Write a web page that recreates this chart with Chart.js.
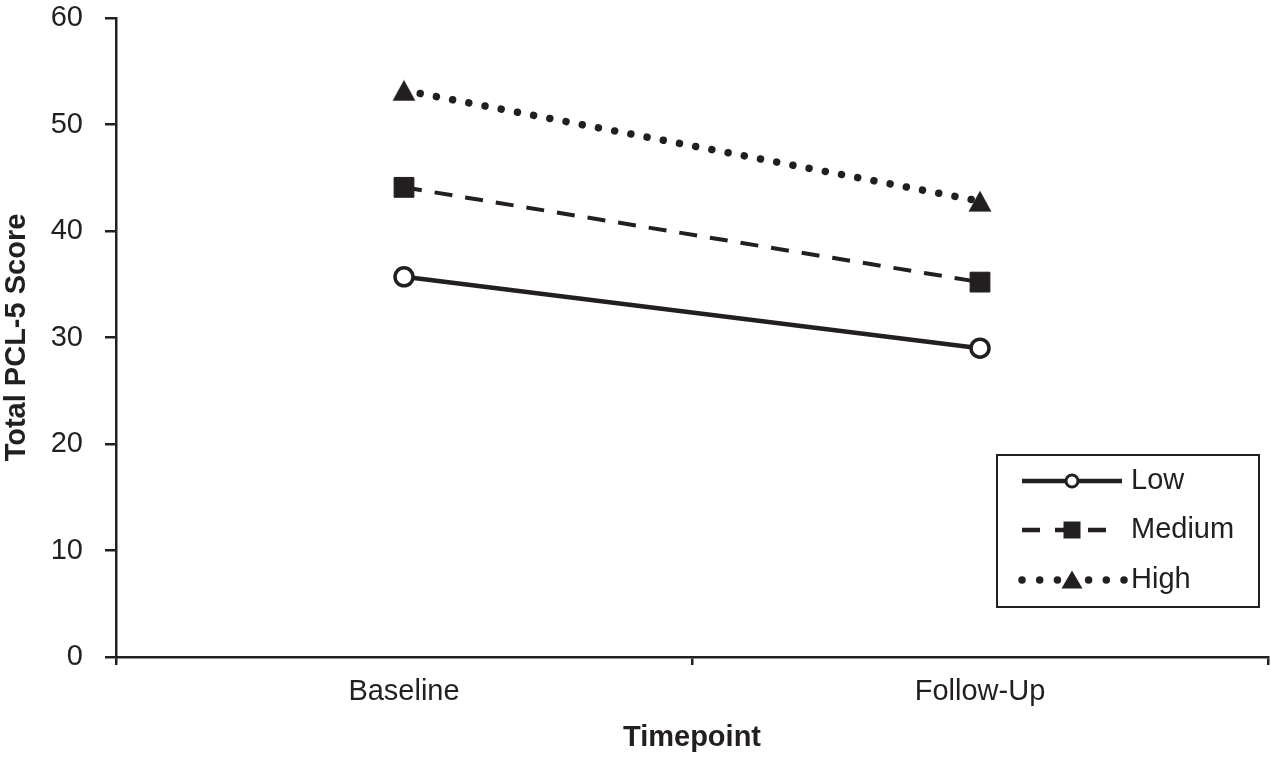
<!DOCTYPE html>
<html>
<head>
<meta charset="utf-8">
<script src="https://cdn.jsdelivr.net/npm/chart.js@4.4.0/dist/chart.umd.min.js"></script>
<style>
  html, body { margin: 0; padding: 0; background: #fff; overflow: hidden; }
  #wrap { width: 1271px; height: 758px; }
  #myChart { display: block; }
</style>
</head>
<body>
<div id="wrap"><canvas id="myChart"></canvas></div>
<script>
// values
const categories = ['Baseline', 'Follow-Up'];
const lowScores = [35.7, 29.0];
const mediumScores = [44.1, 35.2];
const highScores = [53.2, 42.8];
const seriesNames = ['Low', 'Medium', 'High'];
const yTicks = [0, 10, 20, 30, 40, 50, 60];

const ink = '#231f20';
const fontName = "'Liberation Sans', Arial, sans-serif";

// triangle centred on its bounding box (like the original markers)
function triPath(c, cx, cy, w, h) {
  c.beginPath();
  c.moveTo(cx, cy - h / 2);
  c.lineTo(cx + w / 2, cy + h / 2);
  c.lineTo(cx - w / 2, cy + h / 2);
  c.closePath();
}
let triImg = document.createElement('canvas');
triImg.width = 24;
triImg.height = 22;
let tctx = triImg.getContext('2d');
tctx.fillStyle = ink;
triPath(tctx, 12, 11, 23, 21);
tctx.fill();

// no extra room for tick labels, the plot box is fixed
function noPad(s) {
  s.paddingTop = 0;
  s.paddingBottom = 0;
  s.paddingLeft = 0;
  s.paddingRight = 0;
}

// legend drawn inside the plot, line + marker + label
const boxLegend = {
  id: 'boxLegend',
  afterDraw(chart) {
    const c = chart.ctx;
    const a = chart.chartArea;
    const x0 = a.right - 271, y0 = a.bottom - 202;
    const w = 262, h = 152;
    c.save();
    c.strokeStyle = ink;
    c.lineWidth = 2;
    c.strokeRect(x0, y0, w, h);

    const lx1 = x0 + 25, lx2 = x0 + 125, mx = x0 + 75;
    const rows = [y0 + 26, y0 + 75, y0 + 125];
    c.lineCap = 'butt';

    // Low
    c.setLineDash([]);
    c.lineWidth = 4.5;
    c.beginPath(); c.moveTo(lx1, rows[0]); c.lineTo(lx2, rows[0]); c.stroke();
    c.beginPath(); c.arc(mx, rows[0], 6, 0, Math.PI * 2);
    c.fillStyle = '#fff'; c.fill();
    c.lineWidth = 3; c.stroke();

    // Medium
    c.lineWidth = 4.5;
    c.setLineDash([18, 15]);
    c.beginPath(); c.moveTo(lx1, rows[1]); c.lineTo(lx1 + 86, rows[1]); c.stroke();
    c.setLineDash([]);
    c.fillStyle = ink;
    c.fillRect(mx - 8.5, rows[1] - 8.5, 17, 17);

    // High
    c.lineWidth = 7.5;
    c.lineCap = 'round';
    c.setLineDash([0.001, 17.7]);
    c.beginPath(); c.moveTo(lx1, rows[2]); c.lineTo(mx - 4, rows[2]); c.stroke();
    c.beginPath(); c.moveTo(lx2 + 2, rows[2]); c.lineTo(mx + 4, rows[2]); c.stroke();
    c.setLineDash([]);
    triPath(c, mx, rows[2] - 0.5, 21, 18);
    c.fill();

    c.font = '29px ' + fontName;
    c.textBaseline = 'middle';
    c.textAlign = 'left';
    for (let i = 0; i < seriesNames.length; i++) {
      c.fillText(seriesNames[i], x0 + 134, rows[i]);
    }
    c.restore();
  }
};

let ctx = document.getElementById('myChart');

let chart_cfg = {
  type: 'line',
  data: {
    labels: categories,
    datasets: [
      {
        label: seriesNames[0],
        data: lowScores,
        borderColor: ink,
        borderWidth: 4.5,
        pointStyle: 'circle',
        pointRadius: 9,
        pointBorderWidth: 3.5,
        pointBackgroundColor: '#fff',
        pointBorderColor: ink
      },
      {
        label: seriesNames[1],
        data: mediumScores,
        borderColor: ink,
        borderWidth: 4,
        borderDash: [18, 13],
        pointStyle: 'rect',
        pointRadius: 14,
        pointBorderWidth: 1,
        pointBackgroundColor: ink,
        pointBorderColor: ink
      },
      {
        label: seriesNames[2],
        data: highScores,
        borderColor: ink,
        borderWidth: 7.5,
        borderDash: [0.001, 16.5],
        borderCapStyle: 'round',
        pointStyle: triImg,
        pointRadius: 12
      }
    ]
  },
  options: {
    responsive: true,
    maintainAspectRatio: false,
    animation: false,
    layout: { autoPadding: false, padding: { top: 18, right: 3, left: 0, bottom: 0 } },
    plugins: {
      legend: { display: false },
      tooltip: { enabled: false }
    },
    scales: {
      x: {
        offset: true,
        afterFit: (s) => { s.height = 101; noPad(s); },
        grid: {
          offset: true,
          drawOnChartArea: false,
          tickLength: 8,
          lineWidth: 2.5,
          color: ink
        },
        border: { display: true, width: 2.5, color: ink },
        ticks: {
          color: ink,
          padding: 10,
          font: { family: fontName, size: 29 }
        },
        title: {
          display: true,
          text: 'Timepoint',
          color: ink,
          padding: { top: 0, bottom: 3 },
          font: { family: fontName, size: 29, weight: 'bold' }
        }
      },
      y: {
        min: 0,
        max: 60,
        afterFit: (s) => { s.width = 116; noPad(s); },
        afterBuildTicks: (s) => { s.ticks = yTicks.map(v => ({ value: v })); },
        grid: {
          drawOnChartArea: false,
          tickLength: 11,
          lineWidth: 2.5,
          color: ink
        },
        border: { display: true, width: 2.5, color: ink },
        ticks: {
          color: ink,
          padding: 22,
          font: { family: fontName, size: 29 }
        },
        title: {
          display: true,
          text: 'Total PCL-5 Score',
          color: ink,
          padding: { top: 0, bottom: 0 },
          font: { family: fontName, size: 29, weight: 'bold' }
        }
      }
    }
  },
  plugins: [boxLegend]
};

const myChart = new Chart(ctx, chart_cfg);
</script>
</body>
</html>
